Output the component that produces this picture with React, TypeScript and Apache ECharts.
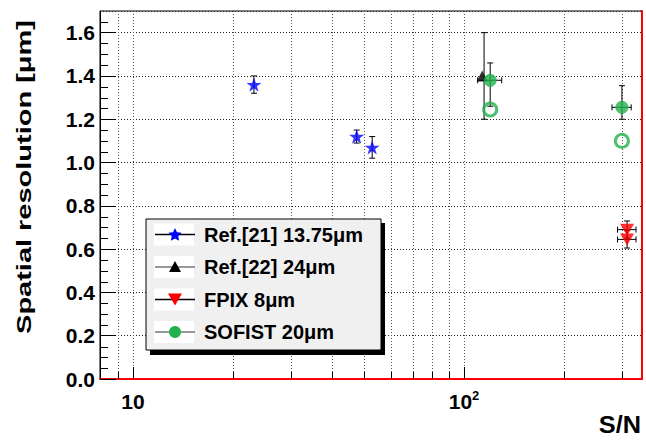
import React, { useEffect, useRef } from "react";
import * as echarts from "echarts";

// ---- data: spatial resolution vs signal-to-noise ----
const ref21SN = [23.2, 47.4, 52.8];
const ref21Res = [1.36, 1.12, 1.07];
const ref21ResErr = [0.04, 0.03, 0.05];

const ref22SN = [115];
const ref22Res = [1.4];
const ref22ResErr = [0.2];

const fpixSN = [311, 311];
const fpixRes = [0.69, 0.645];
const fpixResErr = [0.04, 0.04];
const fpixSNErr = [20, 20];

const sofistSN = [120, 300];
const sofistRes = [1.38, 1.255];
const sofistResErrUp = [0.08, 0.1];
const sofistResErrDown = [0.12, 0.055];
const sofistSNErr = [10, 20];

const sofistOpenSN = [120, 300];
const sofistOpenRes = [1.245, 1.1];

// ---- axes ----
const xRange = [7.95, 345];
const yRange = [0, 1.7];
const yStep = 0.2;
const xGridValues = [9, 10, 20, 30, 40, 50, 60, 70, 80, 90, 100, 200, 300];
const xMajorValues = [10, 100];
const yMinorValues = [
  0.05, 0.1, 0.15, 0.25, 0.3, 0.35, 0.45, 0.5, 0.55, 0.65, 0.7, 0.75, 0.85,
  0.9, 0.95, 1.05, 1.1, 1.15, 1.25, 1.3, 1.35, 1.45, 1.5, 1.55, 1.65,
];

const legendLabels = [
  "Ref.[21] 13.75\u03bcm",
  "Ref.[22] 24\u03bcm",
  "FPIX 8\u03bcm",
  "SOFIST 20\u03bcm",
];
const yTitle = "Spatial resolution [\u03bcm]";
const xTitle = "S/N";

const FONT = "'Liberation Sans', Arial, Helvetica, sans-serif";
const BLUE = "#0000ff";
const RED = "#ff0000";
const GREEN = "#22b14c";
const STAR_PATH =
  "path://M50,0 L61.8,34.5 L97.6,34.5 L68.8,56 L79.4,90.5 L50,69 L20.6,90.5 L31.2,56 L2.4,34.5 L38.2,34.5 Z";
const DOWN_TRI_PATH = "path://M0,0 L100,0 L50,86 Z";

// rows: [x, y, yLow, yHigh, xLow, xHigh]
function errorRows() {
  const rows: number[][] = [];
  ref21SN.forEach((x, i) =>
    rows.push([x, ref21Res[i], ref21Res[i] - ref21ResErr[i], ref21Res[i] + ref21ResErr[i], x, x])
  );
  ref22SN.forEach((x, i) =>
    rows.push([x, ref22Res[i], ref22Res[i] - ref22ResErr[i], ref22Res[i] + ref22ResErr[i], x, x])
  );
  fpixSN.forEach((x, i) =>
    rows.push([
      x,
      fpixRes[i],
      fpixRes[i] - fpixResErr[i],
      fpixRes[i] + fpixResErr[i],
      x - fpixSNErr[i],
      x + fpixSNErr[i],
    ])
  );
  sofistSN.forEach((x, i) =>
    rows.push([
      x,
      sofistRes[i],
      sofistRes[i] - sofistResErrDown[i],
      sofistRes[i] + sofistResErrUp[i],
      x - sofistSNErr[i],
      x + sofistSNErr[i],
    ])
  );
  return rows;
}

function starPoints(cx: number, cy: number, R: number, r: number) {
  const pts: number[][] = [];
  for (let i = 0; i < 10; i++) {
    const a = -Math.PI / 2 + (i * Math.PI) / 5;
    const rad = i % 2 === 0 ? R : r;
    pts.push([cx + rad * Math.cos(a), cy + rad * Math.sin(a)]);
  }
  return pts;
}

function legendGraphics() {
  const box = { x: 146, y: 219, w: 235, h: 131 };
  const rowsY = [234.5, 267, 299.5, 332];
  const lineColors = ["#000", "#777", "#000", "#777"];
  const els: any[] = [
    {
      type: "rect",
      z: 100,
      shape: { x: box.x + 4, y: box.y + 4, width: box.w, height: box.h + 1 },
      style: { fill: "#000" },
    },
    {
      type: "rect",
      z: 101,
      shape: { x: box.x, y: box.y, width: box.w, height: box.h },
      style: { fill: "#f0f0f0", stroke: "#000", lineWidth: 1 },
    },
  ];
  rowsY.forEach((cy, i) => {
    els.push({
      type: "rect",
      z: 102,
      shape: { x: 154, y: cy - 11, width: 40, height: 22 },
      style: { fill: "#fff" },
    });
    els.push({
      type: "line",
      z: 103,
      shape: { x1: 155, y1: cy, x2: 195, y2: cy },
      style: { stroke: lineColors[i], lineWidth: 1.5 },
    });
    let marker: any;
    if (i === 0) {
      marker = { type: "polygon", shape: { points: starPoints(175, cy + 0.5, 7, 3.4) }, style: { fill: BLUE } };
    } else if (i === 1) {
      marker = { type: "polygon", shape: { points: [[175, cy - 6], [181, cy + 5], [169, cy + 5]] }, style: { fill: "#000" } };
    } else if (i === 2) {
      marker = { type: "polygon", shape: { points: [[168, cy - 6], [182, cy - 6], [175, cy + 6]] }, style: { fill: RED } };
    } else {
      marker = { type: "circle", shape: { cx: 175, cy, r: 6 }, style: { fill: GREEN } };
    }
    marker.z = 104;
    els.push(marker);
    els.push({
      type: "text",
      z: 104,
      x: 204,
      y: cy,
      style: {
        text: legendLabels[i],
        fill: "#000",
        fontSize: 20,
        fontWeight: "bold",
        fontFamily: FONT,
        align: "left",
        verticalAlign: "middle",
        textAlign: "left",
        textVerticalAlign: "middle",
      },
    });
  });
  return els;
}

function buildOption(): any {
  const isPow10 = (v: number) => Math.abs(Math.log10(v) - Math.round(Math.log10(v))) < 1e-6;
  return {
    animation: false,
    backgroundColor: "#fff",
    grid: {
      left: 100,
      top: 11,
      width: 542,
      height: 368,
      show: true,
      borderColor: "#000",
      borderWidth: 1,
      backgroundColor: "transparent",
    },
    xAxis: {
      type: "log",
      logBase: 10,
      min: xRange[0],
      max: xRange[1],
      axisLine: { show: true, onZero: false, lineStyle: { color: RED, width: 2 } },
      axisTick: { show: false },
      minorTick: { show: false },
      splitLine: { show: false },
      axisLabel: {
        showMinLabel: false,
        showMaxLabel: false,
        margin: 10,
        color: "#000",
        formatter: (v: number) => {
          if (!isPow10(v)) return "";
          const e = Math.round(Math.log10(v));
          return e === 1 ? "{n|10}" : `{n|10}{s|${e}}`;
        },
        rich: {
          n: { fontSize: 21, fontWeight: "bold", fontFamily: FONT, color: "#000", lineHeight: 24 },
          s: { fontSize: 13, fontWeight: "bold", fontFamily: FONT, color: "#000", lineHeight: 12, verticalAlign: "top" },
        },
      },
    },
    yAxis: [
      {
        type: "value",
        min: yRange[0],
        max: yRange[1],
        interval: yStep,
        axisLine: { show: true, lineStyle: { color: "#000", width: 1 } },
        axisTick: { show: true, inside: true, length: 16, lineStyle: { color: "#000", width: 1 } },
        axisLabel: {
          margin: 5,
          color: "#000",
          fontSize: 21,
          fontWeight: "bold",
          fontFamily: FONT,
          showMaxLabel: false,
          formatter: (v: number) => v.toFixed(1),
        },
        splitLine: { show: true, lineStyle: { color: "#222", width: 1, type: [1, 2] } },
      },
      {
        type: "value",
        position: "right",
        min: yRange[0],
        max: yRange[1],
        interval: yStep,
        axisLine: { show: true, lineStyle: { color: RED, width: 2 } },
        axisTick: { show: false },
        axisLabel: { show: false },
        splitLine: { show: false },
      },
    ],
    series: [
      {
        // vertical dotted grid and bottom ticks of the log axis
        type: "custom",
        silent: true,
        z: 1,
        data: xGridValues.map((v) => [v, 0]),
        renderItem: (params: any, api: any) => {
          const v = api.value(0);
          const x = Math.round(api.coord([v, 0])[0]) + 0.5;
          const cs = params.coordSys;
          const bottom = cs.y + cs.height;
          const len = xMajorValues.includes(v) ? 12 : 7;
          return {
            type: "group",
            children: [
              {
                type: "line",
                shape: { x1: x, y1: cs.y, x2: x, y2: bottom },
                style: { stroke: "#555", lineWidth: 1, lineDash: [1, 2] },
              },
              {
                type: "line",
                shape: { x1: x, y1: bottom, x2: x, y2: bottom - len },
                style: { stroke: "#000", lineWidth: 1 },
              },
            ],
          };
        },
      },
      {
        // minor ticks on the left axis
        type: "custom",
        silent: true,
        z: 1,
        data: yMinorValues.map((v) => [10, v]),
        renderItem: (params: any, api: any) => {
          const y = Math.round(api.coord([10, api.value(1)])[1]) + 0.5;
          const cs = params.coordSys;
          return {
            type: "line",
            shape: { x1: cs.x, y1: y, x2: cs.x + 8, y2: y },
            style: { stroke: "#000", lineWidth: 1 },
          };
        },
      },
      {
        // error bars
        type: "custom",
        silent: true,
        z: 2,
        data: errorRows(),
        renderItem: (_params: any, api: any) => {
          const x = api.value(0);
          const y = api.value(1);
          const yLo = api.value(2);
          const yHi = api.value(3);
          const xLo = api.value(4);
          const xHi = api.value(5);
          const c = api.coord([x, y]);
          const style = { stroke: "#000", lineWidth: 1 };
          const kids: any[] = [];
          const cap = 3;
          if (yHi > yLo) {
            const lo = api.coord([x, yLo])[1];
            const hi = api.coord([x, yHi])[1];
            kids.push({ type: "line", shape: { x1: c[0], y1: lo, x2: c[0], y2: hi }, style });
            kids.push({ type: "line", shape: { x1: c[0] - cap, y1: lo, x2: c[0] + cap, y2: lo }, style });
            kids.push({ type: "line", shape: { x1: c[0] - cap, y1: hi, x2: c[0] + cap, y2: hi }, style });
          }
          if (xHi > xLo) {
            const l = api.coord([xLo, y])[0];
            const r = api.coord([xHi, y])[0];
            kids.push({ type: "line", shape: { x1: l, y1: c[1], x2: r, y2: c[1] }, style });
            kids.push({ type: "line", shape: { x1: l, y1: c[1] - cap, x2: l, y2: c[1] + cap }, style });
            kids.push({ type: "line", shape: { x1: r, y1: c[1] - cap, x2: r, y2: c[1] + cap }, style });
          }
          return { type: "group", children: kids };
        },
      },
      {
        name: legendLabels[0],
        type: "scatter",
        z: 3,
        symbol: STAR_PATH,
        symbolKeepAspect: true,
        symbolSize: 15,
        itemStyle: { color: BLUE },
        data: ref21SN.map((x, i) => [x, ref21Res[i]]),
      },
      {
        name: legendLabels[1],
        type: "scatter",
        z: 3,
        symbol: "triangle",
        symbolSize: 11,
        itemStyle: { color: "#000" },
        data: ref22SN.map((x, i) => [x - 1.5, ref22Res[i]]),
      },
      {
        name: legendLabels[2],
        type: "scatter",
        z: 3,
        symbol: DOWN_TRI_PATH,
        symbolSize: [14, 12],
        itemStyle: { color: RED },
        data: fpixSN.map((x, i) => [x, fpixRes[i]]),
      },
      {
        name: legendLabels[3],
        type: "scatter",
        z: 3,
        symbol: "circle",
        symbolSize: 13,
        itemStyle: { color: GREEN },
        data: sofistSN.map((x, i) => [x, sofistRes[i]]),
      },
      {
        name: "SOFIST open",
        type: "scatter",
        z: 3,
        symbol: "circle",
        symbolSize: 13,
        itemStyle: { color: "transparent", borderColor: GREEN, borderWidth: 3 },
        data: sofistOpenSN.map((x, i) => [x, sofistOpenRes[i]]),
      },
    ],
    graphic: {
      elements: [
        ...legendGraphics(),
        {
          type: "text",
          z: 100,
          x: 24,
          y: 177,
          rotation: Math.PI / 2,
          scaleX: 1.38,
          style: {
            text: yTitle,
            fill: "#000",
            fontSize: 21,
            fontWeight: "bold",
            fontFamily: FONT,
            align: "center",
            verticalAlign: "middle",
            textAlign: "center",
            textVerticalAlign: "middle",
          },
        },
        {
          type: "text",
          z: 100,
          x: 641,
          y: 425,
          scaleX: 1.1,
          style: {
            text: xTitle,
            fill: "#000",
            fontSize: 23,
            fontWeight: "bold",
            fontFamily: FONT,
            align: "right",
            verticalAlign: "middle",
            textAlign: "right",
            textVerticalAlign: "middle",
          },
        },
      ],
    },
  };
}

export default function App() {
  const ref = useRef<HTMLDivElement>(null);
  useEffect(() => {
    if (!ref.current) return;
    const chart = echarts.init(ref.current, null, { renderer: "svg" });
    chart.setOption(buildOption());
    return () => chart.dispose();
  }, []);
  return (
    <div
      ref={ref}
      style={{ position: "fixed", left: 0, top: 0, width: 646, height: 441, background: "#fff" }}
    />
  );
}
